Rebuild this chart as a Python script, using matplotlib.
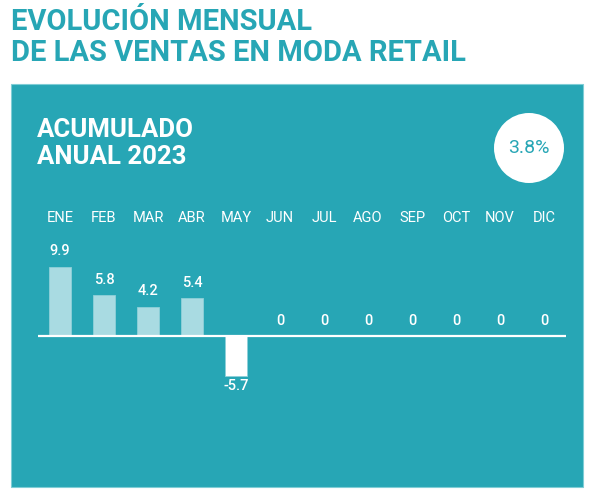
import matplotlib.pyplot as plt
import matplotlib.transforms as mtransforms
from matplotlib.patches import Rectangle, Ellipse

# datos
meses = ["ENE", "FEB", "MAR", "ABR", "MAY", "JUN", "JUL", "AGO", "SEP", "OCT", "NOV", "DIC"]
ventas = [9.9, 5.8, 4.2, 5.4, -5.7, 0, 0, 0, 0, 0, 0, 0]
etiquetas = ["9.9", "5.8", "4.2", "5.4", "-5.7", "0", "0", "0", "0", "0", "0", "0"]
acumulado = "3.8%"

teal = "#27a6b5"
claro = "#a9dbe2"

plt.rcParams['font.family'] = ['Roboto', 'DejaVu Sans']

fig = plt.figure(figsize=(6, 5), dpi=100)

# titulo
fig.text(11/600, 1-22/500, "EVOLUCIÓN MENSUAL", color=teal, fontsize=21, fontweight='bold',
         va='center', ha='left')
fig.text(11/600, 1-53/500, "DE LAS VENTAS EN MODA RETAIL", color=teal, fontsize=21, fontweight='bold',
         va='center', ha='left')

# panel
fig.add_artist(Rectangle((11/600, 1-487/500), 572/600, 403/500, transform=fig.transFigure,
                         facecolor=teal, edgecolor='#7fcdd6', linewidth=0.8, zorder=0))

fig.text(37/600, 1-130/500, "ACUMULADO", color='white', fontsize=18.5, fontweight='bold', va='center')
fig.text(37/600, 1-157/500, "ANUAL 2023", color='white', fontsize=18.5, fontweight='bold', va='center')

fig.add_artist(Ellipse((529/600, 1-148/500), 70/600, 70/500, transform=fig.transFigure,
                       facecolor='white', edgecolor='none', zorder=2))
fig.text(529/600, 1-148/500, acumulado, color=teal, fontsize=14, ha='center', va='center', zorder=3)

ax = fig.add_axes([38/600, 0.2, 528/600, 0.3])
ax.set_xlim(-0.5, 11.5)
ax.set_ylim(-64/7, 86/7)
ax.axis('off')
ax.patch.set_alpha(0)

x = list(range(len(meses)))
colores = [claro if v >= 0 else 'white' for v in ventas]
ax.bar(x, ventas, width=0.5, color=colores, edgecolor='#8fd0d9', linewidth=0.6, zorder=2)
ax.axhline(0, color='white', linewidth=1.6, zorder=3)

trans = mtransforms.blended_transform_factory(ax.transData, fig.transFigure)
for i, m in enumerate(meses):
    ax.text(i, 1-218/500, m, transform=trans, color='white', fontsize=10.5, ha='center', va='center')

for i, v in enumerate(ventas):
    if v >= 0:
        ax.annotate(etiquetas[i], (i, v), xytext=(0, 11), textcoords='offset points',
                    color='white', fontsize=10.5, fontweight='medium', ha='center', va='center')
    else:
        ax.annotate(etiquetas[i], (i, v), xytext=(0, -7.5), textcoords='offset points',
                    color='white', fontsize=10.5, fontweight='medium', ha='center', va='center')

fig.savefig("out.png", dpi=100)
